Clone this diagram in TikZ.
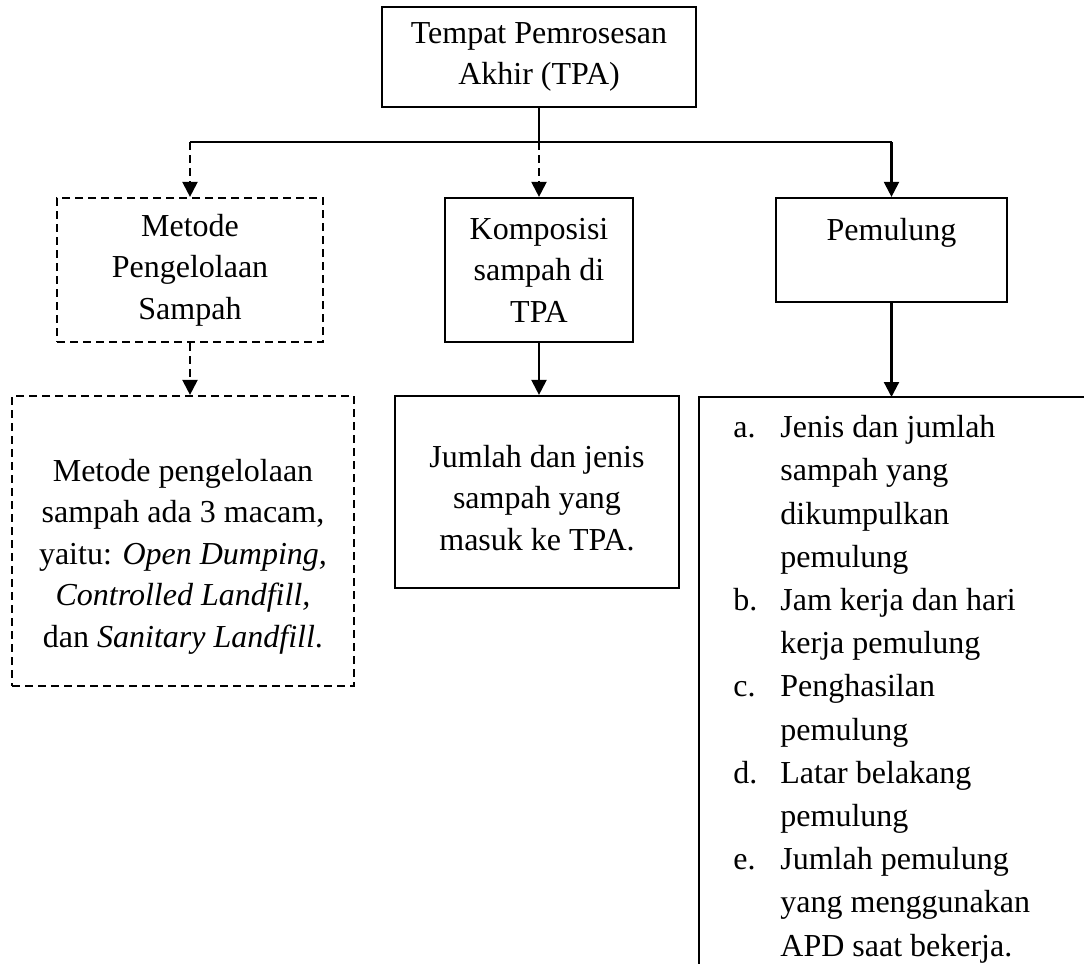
\documentclass[tikz,border=0pt]{standalone}
\usepackage{fontspec}
\setmainfont{Liberation Serif}
\usetikzlibrary{arrows.meta}
\newcommand\boxfont{\fontsize{16}{20.75}\selectfont}
\newcommand\listfont{\fontsize{16}{21.6}\selectfont}
\newcommand\lab[1]{\makebox[23.5pt][l]{#1}}
\newcommand\ind{\hspace*{23.5pt}}
\begin{document}
\begin{tikzpicture}[x=0.5pt,y=-0.5pt,
  box/.style={draw,line width=1.1pt,inner sep=0pt,align=center,font=\boxfont},
  dbox/.style={box,dash pattern=on 4pt off 2.5pt},
  conn/.style={line width=1.1pt},
  arr/.style={conn,-{Triangle[width=7.5pt,length=7.5pt]}},
  darr/.style={arr,dash pattern=on 4pt off 2.5pt}]
\useasboundingbox (0,0) rectangle (1084,964);

\node[box,minimum width=157pt,minimum height=50pt] (tpa) at (539,57) {Tempat Pemrosesan\\Akhir (TPA)};
\node[dbox,minimum width=133pt,minimum height=72pt] (met) at (190,270) {Metode\\Pengelolaan\\Sampah};
\node[box,minimum width=94pt,minimum height=72pt] (kom) at (539,270) {Komposisi\\sampah di\\TPA};
\node[box,minimum width=115.5pt,minimum height=52pt] (pem) at (891.5,250) {Pemulung\\\mbox{}};
\node[dbox,minimum width=171pt,minimum height=145pt] (metd) at (183,541) {\rule{0pt}{26.9pt}Metode pengelolaan\\sampah ada 3 macam,\\yaitu: \textit{Open Dumping,}\\\textit{Controlled Landfill,}\\dan \textit{Sanitary Landfill}.};
\node[box,minimum width=142pt,minimum height=96pt] (jum) at (537,492) {\rule{0pt}{16.9pt}Jumlah dan jenis\\sampah yang\\masuk ke TPA.};

\coordinate (lt) at (699,397);
\coordinate (lr) at (1084,397);
\coordinate (lb) at (699,964);
\draw[conn] (lr) -- (lt) -- (lb);
\node[anchor=north west,inner sep=0pt,align=left,font=\listfont] (list) at (733,415)
 {\lab{a.}Jenis dan jumlah\\\ind sampah yang\\\ind dikumpulkan\\\ind pemulung\\
  \lab{b.}Jam kerja dan hari\\\ind kerja pemulung\\
  \lab{c.}Penghasilan\\\ind pemulung\\
  \lab{d.}Latar belakang\\\ind pemulung\\
  \lab{e.}Jumlah pemulung\\\ind yang menggunakan\\\ind APD saat bekerja.};

\coordinate (jc) at (539,142);
\coordinate (jl) at (190,142);
\coordinate (jr) at (891.5,142);
\draw[conn] (tpa.south) -- (jc);
\draw[conn] (jl) -- (jr);
\draw[darr] (jl) -- (met.north);
\draw[darr] (jc) -- (kom.north);
\draw[arr] (jr) -- (pem.north);
\draw[darr] (met.south) -- (met.south |- metd.north);
\draw[arr] (kom.south) -- (kom.south |- jum.north);
\draw[arr] (pem.south) -- (pem.south |- lt);
\end{tikzpicture}
\end{document}
